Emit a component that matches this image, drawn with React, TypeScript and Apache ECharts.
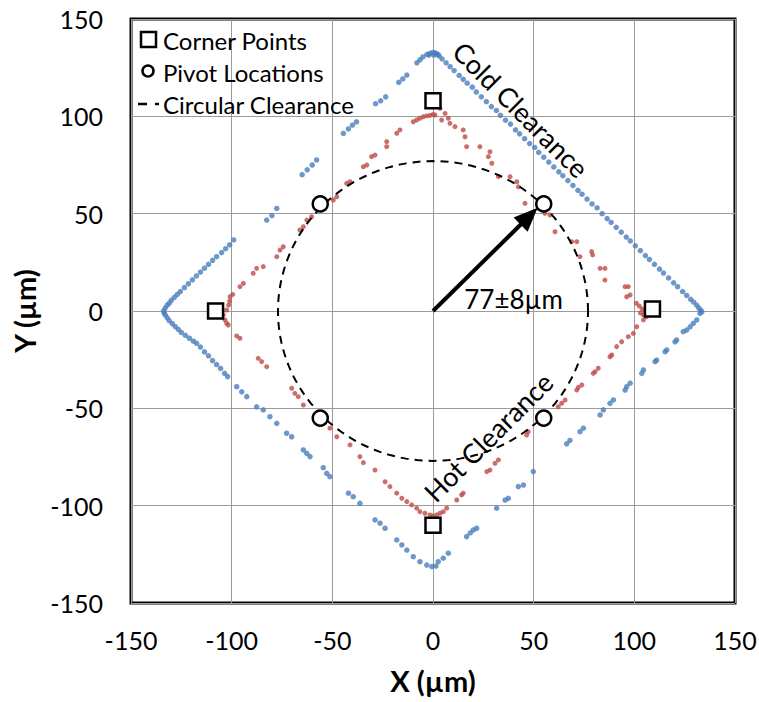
import React, { useEffect, useRef } from "react";
import * as echarts from "echarts";

// Tick values
const axisMin = -150;
const axisMax = 150;
const axisStep = 50;

// Cold clearance (blue) measured points
const coldUpperRight: number[][] = [
  [1, 132.5], [3, 131], [4.5, 129.5], [6.5, 127.5], [8.5, 125.5], [10.5, 123.5], [13, 121], [15, 119], [17, 117],
  [19.5, 115], [21.5, 112.5], [24, 110], [26.5, 107.5], [29, 105], [31.5, 103], [33.5, 100.5], [36, 98], [38.5, 96],
  [41, 93], [43, 91], [45.5, 88.5], [48, 86], [50.5, 84], [52.5, 81.5], [55, 79], [57.5, 76.5], [60, 74], [62.5, 71.5],
  [64.5, 69.5], [67, 67], [69.5, 64.5], [72, 62], [74, 60], [76.5, 57.5], [79, 55], [81.5, 53], [84, 50], [86.5, 47.5],
  [88.5, 45.5], [91, 43], [93.5, 40.5], [96, 38], [98, 36], [100.5, 33.5], [103, 31], [105.5, 28.5], [107.5, 26.5],
  [110, 24], [112.5, 21.5], [114.5, 19.5], [117, 17], [119.5, 14.5], [121.5, 12.5], [124, 10], [126, 8], [128, 6],
  [129.5, 4.5], [131, 3], [132, 1.5], [133, 0.5], [133.5, -0.5],
];
const coldTop: number[][] = [
  [-8, 127.5], [-6.5, 129], [-5, 130.5], [-3, 131.8], [-1.5, 132.4], [0, 132.8], [1.5, 132.4], [2.5, 131.8], [-2, 131.5], [0.5, 131.5],
];
const coldUpperLeft: number[][] = [
  [-13, 121.2], [-15, 119.2], [-17, 117.5], [-23.5, 110], [-26, 108], [-28.5, 106.5], [-38, 97.2], [-40, 95.5],
  [-42, 93.5], [-44.5, 91.2], [-57.8, 77.6], [-60, 75], [-62.5, 72.5], [-65, 70], [-77.6, 52.7], [-80, 49],
  [-82.6, 46.7], [-99, 36.5], [-101, 34], [-103, 32], [-105, 30], [-107.5, 27.9], [-109.5, 26], [-111.5, 24],
  [-113.5, 22], [-115.5, 20], [-117.5, 18], [-119.5, 16], [-121.5, 14], [-123.5, 12], [-125.5, 10], [-127, 8.5],
  [-128.5, 7], [-130, 5.5], [-131, 4], [-132, 3], [-133, 1.5], [-133.8, 0],
];
const coldLowerLeft: number[][] = [
  [-133.5, -1], [-133, -2], [-132, -3.5], [-131, -5], [-129.5, -6.5], [-128, -8], [-126.5, -9.5], [-125, -11],
  [-123, -12.5], [-121, -14], [-119, -15.5], [-117.4, -16.6], [-115.5, -18.5], [-113.5, -21], [-111.5, -23],
  [-109.5, -25.5], [-107.5, -27.5], [-105.5, -29.5], [-103.5, -32], [-102, -33.7], [-97.5, -38.9], [-95, -41.5],
  [-92.5, -44], [-87.6, -49.2], [-84.3, -50.8], [-81, -54.3], [-77.6, -57.7], [-72.7, -62.8], [-70.2, -64.6],
  [-64.4, -71.4], [-62.7, -73.1], [-61.1, -74.8], [-54.5, -80.5], [-52.8, -83.4], [-51.2, -85.1], [-42, -93.6],
  [-39.6, -95.4], [-36.3, -98.8], [-28.8, -107.3], [-26.3, -109], [-23.8, -111.6], [-18, -117.6], [-15.5, -120.2],
  [-13, -122.8], [-9.8, -126.2], [-6.5, -128.8], [-3.1, -130.5], [-0.6, -131.3],
];
const coldLowerRight: number[][] = [
  [1.5, -131], [2.6, -128.8], [5.1, -127], [7.6, -124.4], [16.7, -115.9], [18.5, -114], [20, -112.5], [21.7, -111.6],
  [31.6, -101.3], [35.8, -97.1], [37.4, -96.2], [42.4, -90.2], [44.9, -89.4], [49.8, -82.5], [66.4, -68.2], [68, -66.5],
  [73, -62], [74.7, -60.2], [83, -53.4], [84.6, -50.8], [87.9, -47.4], [89.6, -45.7], [95.4, -40.6], [96.2, -38.9],
  [97.9, -37.1], [103.7, -32], [104.5, -30.3], [110.3, -26], [111.1, -25.2], [115.3, -20.9], [116.1, -20], [120.2, -15.8],
  [121, -14.9], [124.3, -10.6], [126, -9.8], [127.7, -8.1], [129.3, -6.3], [131, -4.6], [132.6, -1.2],
];

// Hot clearance (red) measured points
const hotUpperLeft: number[][] = [
  [-102.5, 0.5], [-101.5, 3], [-101, 5], [-100.8, 7.3], [-99.5, 8.5], [-95.9, 12.5], [-94.2, 14.2], [-89.3, 19.4],
  [-87.6, 21.9], [-84.3, 22.8], [-77.6, 27.9], [-76, 31.3], [-74.4, 33], [-66.1, 41.6], [-64.4, 43.3], [-62.7, 46.7],
  [-60.3, 48.4], [-49.5, 57], [-47.8, 58.7], [-42.9, 65.6], [-41.2, 66.4], [-34.6, 74.1], [-32.9, 75], [-30.5, 79.3],
  [-28.8, 80.1], [-23, 84.4], [-23, 87], [-18, 91.3], [-16.4, 93], [-9.8, 97.2], [-8.1, 98.1], [-6.5, 99], [-4.8, 99.8],
  [-3.1, 100.2],
];
const hotUpperRight: number[][] = [
  [-1.5, 100.5], [0, 101], [1, 100.7], [1.8, 105.8], [3.5, 104.1], [4.3, 98.1], [6, 101.5], [7.6, 99], [8.4, 96.4],
  [10.9, 94.7], [15, 93], [15.9, 89.5], [16.7, 84.4], [23.3, 84.4], [28.3, 81.8], [27.5, 79.3], [29.2, 75.9], [32.5, 69],
  [38.3, 69], [41.6, 66.4], [42.4, 63.8], [45.7, 55.3], [55.6, 50.2], [58.1, 49.3], [60.6, 40.7], [68.9, 35.6],
  [71.4, 35.6], [73, 27.9], [78.8, 30.5], [79.3, 28.8], [83, 21.9], [85.4, 21.9], [85.4, 15.9], [95.4, 12.5], [97, 12.5],
  [96.2, 7.3], [97.9, 8.2], [101, 4], [102.5, 2.5], [104, 1], [105.5, 0], [103, -1],
];
const hotLowerRight: number[][] = [
  [104.5, -2], [106, -3], [104.5, -4.6], [101.2, -8.1], [99.5, -11.5], [97, -13.2], [93.7, -15.8], [91.2, -18.3],
  [88.8, -22.6], [87.9, -23.5], [82.1, -29.4], [80.5, -31.2], [79.6, -32], [73.9, -38], [72.2, -39.2], [71.4, -40.6],
  [65.6, -45.7], [63.9, -47.4], [62.2, -49.2], [47.3, -62], [46.5, -63.7], [32.5, -76.5], [30.8, -78.2], [28.3, -81.7],
  [26.7, -82.5], [15, -93.6], [14.2, -94.5], [11.8, -97.1], [6.8, -101.3], [5.1, -103.1], [3.5, -103.9], [1.8, -104.7],
  [0, -105.3],
];
const hotLowerLeft: number[][] = [
  [-104.2, -2], [-103.3, -4.6], [-102.5, -6.3], [-101.7, -7.2], [-97.5, -12.8], [-95.9, -14], [-86.8, -24.3],
  [-85.1, -26], [-82.6, -28.6], [-70.2, -39.7], [-68.6, -42.3], [-66.9, -44], [-64.4, -48.3], [-51.2, -60.2],
  [-47.8, -64.6], [-41.2, -68.8], [-36.3, -74.8], [-34.6, -77.9], [-28.8, -81.7], [-23.8, -87.7], [-21.4, -90.2],
  [-18, -93.6], [-15.5, -96.2], [-13, -97.9], [-10.6, -99.6], [-8.1, -101.3], [-6.5, -103.1], [-4, -103.9], [-1.5, -104.8],
];

// Markers
const cornerPoints: number[][] = [[0, 108], [-108, 0], [109, 1], [0, -110]];
const pivotLocations: number[][] = [[-56, 55], [55, 55], [-56, -55], [55, -55]];
const clearanceCircle: number[][] = [[0, 0, 77]]; // centre x, centre y, radius
const arrowLine: number[][] = [[0, 0, 52, 53]]; // from (x0,y0) to (x1,y1)

// Annotations
const annotationTexts = ["Cold Clearance", "Hot Clearance", "77±8µm"];
const annotationPos: number[][] = [[43.7, 103.5], [27.4, -64.7], [40, 6]];
const annotationRot = [-45, 45, 0];
const annotationSize = [27, 27, 26];

const legendNames = ["Corner Points", "Pivot Locations", "Circular Clearance"];

const FONT = "Lato, 'Open Sans', sans-serif";

export default function App() {
  const ref = useRef<HTMLDivElement>(null);
  useEffect(() => {
    if (!ref.current) return;
    const chart = echarts.init(ref.current, null, { renderer: "svg" });

    const axisCommon = {
      type: "value",
      min: axisMin,
      max: axisMax,
      interval: axisStep,
      axisLine: { show: false },
      axisTick: { show: false },
      splitLine: { show: true, lineStyle: { color: "#9b9b9b", width: 1 } },
      nameLocation: "middle",
      nameTextStyle: { fontFamily: FONT, fontSize: 29, fontWeight: "bold", color: "#000" },
    };

    const option: any = {
      animation: false,
      backgroundColor: "#fff",
      grid: {
        left: 131, right: 24, top: 19, bottom: 99,
        show: true, borderColor: "#000", borderWidth: 3,
        outerBoundsMode: "none", containLabel: false,
      },
      xAxis: {
        ...axisCommon,
        name: "X (µm)",
        nameGap: 63,
        axisLabel: { fontFamily: FONT, fontSize: 25, color: "#000", margin: 24 },
      },
      yAxis: {
        ...axisCommon,
        name: "Y (µm)",
        nameGap: 88,
        axisLabel: { fontFamily: FONT, fontSize: 25, color: "#000", margin: 28 },
      },
      series: [
        {
          type: "scatter", name: "Cold", silent: true, symbolSize: 5.5, z: 2,
          itemStyle: { color: "#4A7EBB" },
          data: [...coldUpperRight, ...coldTop, ...coldUpperLeft, ...coldLowerLeft, ...coldLowerRight],
        },
        {
          type: "scatter", name: "Hot", silent: true, symbolSize: 5, z: 2,
          itemStyle: { color: "#BE4B48" },
          data: [...hotUpperLeft, ...hotUpperRight, ...hotLowerRight, ...hotLowerLeft],
        },
        {
          type: "custom", name: legendNames[2], silent: true, z: 3,
          data: clearanceCircle,
          renderItem: (params: any, api: any) => {
            const c = api.coord([api.value(0), api.value(1)]);
            const s = api.size([api.value(2), api.value(2)]);
            const pts: number[][] = [];
            for (let a = 0; a <= 360; a += 2) {
              const t = (a * Math.PI) / 180;
              pts.push([c[0] + s[0] * Math.cos(t), c[1] - s[1] * Math.sin(t)]);
            }
            return {
              type: "polyline",
              shape: { points: pts },
              style: { stroke: "#000", lineWidth: 2, lineDash: [8, 6], fill: null },
            };
          },
        },
        {
          type: "custom", name: "Arrow", silent: true, z: 4,
          data: arrowLine,
          renderItem: (params: any, api: any) => {
            const p0 = api.coord([api.value(0), api.value(1)]);
            const p1 = api.coord([api.value(2), api.value(3)]);
            const dx = p1[0] - p0[0];
            const dy = p1[1] - p0[1];
            const len = Math.sqrt(dx * dx + dy * dy);
            const ux = dx / len, uy = dy / len;
            const headLen = 24, headHalf = 10;
            const bx = p1[0] - ux * headLen, by = p1[1] - uy * headLen;
            return {
              type: "group",
              children: [
                {
                  type: "line",
                  shape: { x1: p0[0], y1: p0[1], x2: bx + ux * 2, y2: by + uy * 2 },
                  style: { stroke: "#000", lineWidth: 4 },
                },
                {
                  type: "polygon",
                  shape: {
                    points: [
                      [p1[0], p1[1]],
                      [bx - uy * headHalf, by + ux * headHalf],
                      [bx + uy * headHalf, by - ux * headHalf],
                    ],
                  },
                  style: { fill: "#000" },
                },
              ],
            };
          },
        },
        {
          type: "scatter", name: legendNames[0], symbol: "rect", symbolSize: 15, z: 5, silent: true,
          itemStyle: { color: "#fff", borderColor: "#000", borderWidth: 2.5, opacity: 1 },
          data: cornerPoints,
        },
        {
          type: "scatter", name: legendNames[1], symbol: "circle", symbolSize: 15, z: 5, silent: true,
          itemStyle: { color: "#fff", borderColor: "#000", borderWidth: 2.5, opacity: 1 },
          data: pivotLocations,
        },
        {
          type: "custom", name: "Annotations", silent: true, z: 6,
          data: annotationPos.map((p, i) => [p[0], p[1], i]),
          renderItem: (params: any, api: any) => {
            const p = api.coord([api.value(0), api.value(1)]);
            const i = api.value(2);
            return {
              type: "text",
              x: p[0], y: p[1],
              rotation: (annotationRot[i] * Math.PI) / 180,
              style: {
                text: annotationTexts[i],
                fontFamily: FONT, fontSize: annotationSize[i], fill: "#000",
                align: "center", verticalAlign: "middle",
              },
            };
          },
        },
      ],
      graphic: [
        { type: "rect", shape: { x: 141, y: 32, width: 15, height: 15 }, style: { fill: "#fff", stroke: "#000", lineWidth: 2.5 }, z: 10 },
        { type: "text", x: 163, y: 40, style: { text: legendNames[0], fontFamily: FONT, fontSize: 24, fill: "#000", verticalAlign: "middle" }, z: 10 },
        { type: "circle", shape: { cx: 148, cy: 71, r: 5.5 }, style: { fill: "#fff", stroke: "#000", lineWidth: 2.5 }, z: 10 },
        { type: "text", x: 163, y: 72, style: { text: legendNames[1], fontFamily: FONT, fontSize: 24, fill: "#000", verticalAlign: "middle" }, z: 10 },
        { type: "line", shape: { x1: 138, y1: 104, x2: 147, y2: 104 }, style: { stroke: "#000", lineWidth: 2.5 }, z: 10 },
        { type: "line", shape: { x1: 155, y1: 104, x2: 159, y2: 104 }, style: { stroke: "#000", lineWidth: 2.5 }, z: 10 },
        { type: "text", x: 163, y: 104, style: { text: legendNames[2], fontFamily: FONT, fontSize: 24, fill: "#000", verticalAlign: "middle" }, z: 10 },
      ],
    };

    chart.setOption(option);
    return () => chart.dispose();
  }, []);

  return <div ref={ref} style={{ width: 759, height: 702, position: "absolute", left: 0, top: 0 }} />;
}
